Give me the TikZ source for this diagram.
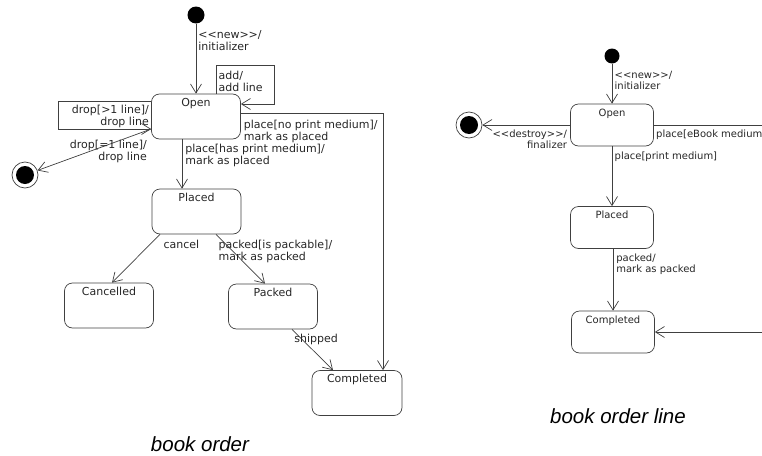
\documentclass[tikz,border=0pt]{standalone}
\usepackage{fontspec}
\setmainfont{DejaVu Sans}
\newfontfamily\capfont{Liberation Sans}
\usetikzlibrary{arrows.meta}
\newcommand\stlt{\mbox{<}\mbox{<}}
\newcommand\stgt{\mbox{>}\mbox{>}}

\begin{document}
\begin{tikzpicture}[x=1pt,y=-1pt,
    state/.style={draw=black!75,line width=0.7pt,rounded corners=8pt,inner sep=3pt,minimum width=89pt,
      text height=9pt,text depth=30pt,text=black!85,font=\fontsize{11}{12}\selectfont},
    sstate/.style={state,minimum width=83pt,text height=9pt,text depth=27pt,font=\fontsize{10}{11}\selectfont},
    trans/.style={draw=black!75,line width=0.7pt,-{Straight Barb[length=9pt,width=11pt]}},
    lbl/.style={align=left,inner sep=1pt,text=black!85,font=\fontsize{11}{11.8}\selectfont},
    slbl/.style={lbl,font=\fontsize{10}{10.8}\selectfont},
    start/.style={circle,fill=black,inner sep=0pt,minimum size=17pt},
    stop/.style={circle,draw=black!75,line width=0.7pt,inner sep=0pt,minimum size=26pt,
      path picture={\fill[black] (path picture bounding box.center) circle (9pt);}},
    caption/.style={anchor=base,font=\capfont\itshape\fontsize{20.5}{24}\selectfont}]
      \useasboundingbox (0,0) rectangle (762,455);
      \clip (0,0) rectangle (762,455);

      \node[start] (init) at (196,15) {};
      \node[state] (open) at (196,116.5) {Open};
      \node[state] (placed) at (196.5,211.5) {Placed};
      \node[state] (cancelled) at (109,305.5) {Cancelled};
      \node[state] (packed) at (273,306.5) {Packed};
      \node[state,minimum width=90pt] (completed) at (357,393) {Completed};
      \node[stop] (final) at (25,175) {};
      \node[caption] (cap) at (200,451) {book order};

      \draw[trans] (init) -- (open)
        node[lbl,pos=0,anchor=north west,xshift=1pt,yshift=-5.5pt] {\stlt new\stgt/\\initializer};
      \draw[trans] ([xshift=20pt]open.north) -- ++(0,-28)
        node[lbl,anchor=north west,xshift=1.3pt,yshift=-4pt] {add/\\add line}
        -- ++(58,0) |- ([yshift=12.5pt]open.east);
      \draw[trans] ([yshift=15.5pt]open.west)
        node[lbl,align=right,anchor=north east,xshift=-1pt,yshift=-2.6pt] {drop[>1 line]/\\drop line}
        -- ++(-92.5,0) |- ([yshift=-12.5pt]open.west);
      \draw[trans] ([yshift=-12.5pt]open.west) -- (final)
        node[lbl,align=right,pos=0,anchor=north east,xshift=-3pt,yshift=-10pt] {drop[=1 line]/\\drop line};
      \draw[trans] ([yshift=3.5pt]open.east) -| ([xshift=26pt]completed.north)
        node[lbl,pos=0,anchor=north west,xshift=1.7pt,yshift=-5.6pt] {place[no print medium]/\\mark as placed};
      \draw[trans] ([xshift=-14pt]open.south) -- ([xshift=-14.5pt]placed.north)
        node[lbl,pos=0,anchor=north west,xshift=2pt,yshift=-3.3pt] {place[has print medium]/\\mark as placed};
      \draw[trans] ([xshift=-36.5pt]placed.south) -- ([xshift=3pt]cancelled.north)
        node[lbl,pos=0,anchor=north west,xshift=2.3pt,yshift=-4.6pt] {cancel};
      \draw[trans] ([xshift=19.5pt]placed.south) -- ([xshift=-8pt]packed.north)
        node[lbl,pos=0,anchor=north west,xshift=1.3pt,yshift=-4.3pt] {packed[is packable]/\\mark as packed};
      \draw[trans] ([xshift=19pt]packed.south) -- ([xshift=-24pt]completed.north)
        node[lbl,pos=0,anchor=north west,xshift=1pt,yshift=-3.3pt] {shipped};

      \node[start,minimum size=15pt] (init2) at (612,56) {};
      \node[sstate] (open2) at (612,125) {Open};
      \node[sstate] (placed2) at (612,227.5) {Placed};
      \node[sstate] (completed2) at (613,332) {Completed};
      \node[stop] (final2) at (469,125) {};
      \node[caption] (cap2) at (618,423) {book order line};

      \draw[trans] (init2) -- (open2)
        node[slbl,pos=0,anchor=north west,xshift=1.3pt,yshift=-5.9pt] {\stlt new\stgt/\\initializer};
      \draw[trans] (open2) -- (final2)
        node[slbl,align=right,pos=0,anchor=north east,xshift=-1.8pt,yshift=-3.7pt] {\stlt destroy\stgt/\\finalizer};
      \draw[trans] (open2.east) -- ++(130,0)
        node[slbl,pos=0,anchor=north west,xshift=1pt,yshift=-3.4pt] {place[eBook medium}
        |- (completed2.east);
      \draw[trans] (open2) -- (placed2)
        node[slbl,pos=0,anchor=north west,xshift=1.3pt,yshift=-3.7pt] {place[print medium]};
      \draw[trans] ([xshift=1pt]placed2.south) -- (completed2)
        node[slbl,pos=0,anchor=north west,xshift=2pt,yshift=-4pt] {packed/\\mark as packed};
    \end{tikzpicture}
\end{document}
